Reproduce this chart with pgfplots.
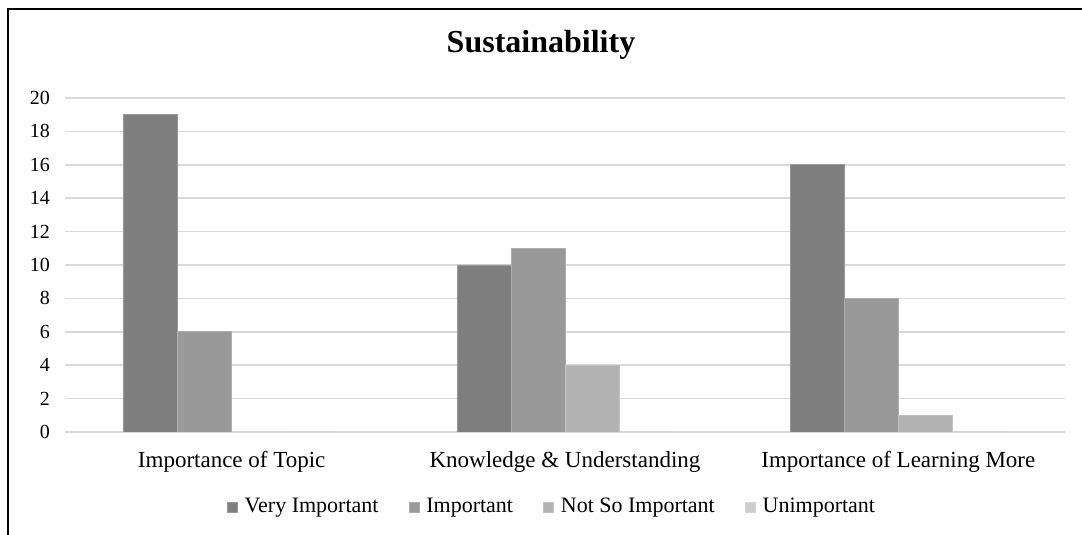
\documentclass[border=0pt]{standalone}
\usepackage{pgfplots}
\pgfplotsset{compat=1.18}
\usepackage{fontspec}
\setmainfont{Liberation Serif}
\definecolor{c1}{HTML}{7F7F7F}
\definecolor{c2}{HTML}{999999}
\definecolor{c3}{HTML}{B3B3B3}
\definecolor{c4}{HTML}{CDCDCD}
\definecolor{gridc}{HTML}{D9D9D9}
\begin{document}
\begin{tikzpicture}
\path[use as bounding box] (0,0) rectangle (541pt,267.5pt);
\draw[line width=1pt] (4pt,0) -- (4pt,263pt) -- (541pt,263pt);
\node[font=\fontsize{16}{18}\selectfont\bfseries] at (270.5pt,245pt) {Sustainability};
\begin{axis}[
  at={(32.5pt,51.5pt)}, anchor=south west,
  scale only axis, width=500pt, height=167pt,
  ybar=0pt, bar width=27pt,
  xmin=-0.5, xmax=2.5, ymin=0, ymax=20,
  xtick=data,
  xticklabels={Importance of Topic, Knowledge \& Understanding, Importance of Learning More},
  ytick={0,2,...,20},
  axis line style={draw=none},
  major tick length=0pt,
  ymajorgrids, grid style={gridc, line width=0.8pt},
  tick label style={font=\fontsize{10}{12}\selectfont},
  /pgf/number format/assume math mode=true,
  xticklabel style={yshift=-6pt, font=\fontsize{11.5}{13}\selectfont},
  yticklabel style={xshift=-4pt},
  legend columns=4,
  legend style={draw=none, at={(0.488,-0.2246)}, anchor=center, font=\fontsize{11}{13}\selectfont,
    /tikz/every odd column/.append style={column sep=1.5pt},
    /tikz/every even column/.append style={column sep=13pt}},
  legend image code/.code={\fill[#1] (0pt,-2.5pt) rectangle (5pt,2.5pt);},
]
\addplot[fill=c1, draw=c1!80!white] coordinates {(0,19) (1,10) (2,16)};
\addplot[fill=c2, draw=c2!80!white] coordinates {(0,6) (1,11) (2,8)};
\addplot[fill=c3, draw=c3!80!white] coordinates {(0,0) (1,4) (2,1)};
\addplot[fill=c4, draw=c4!80!white] coordinates {(0,0) (1,0) (2,0)};
\legend{Very Important, Important, Not So Important, Unimportant}
\end{axis}
\end{tikzpicture}
\end{document}
